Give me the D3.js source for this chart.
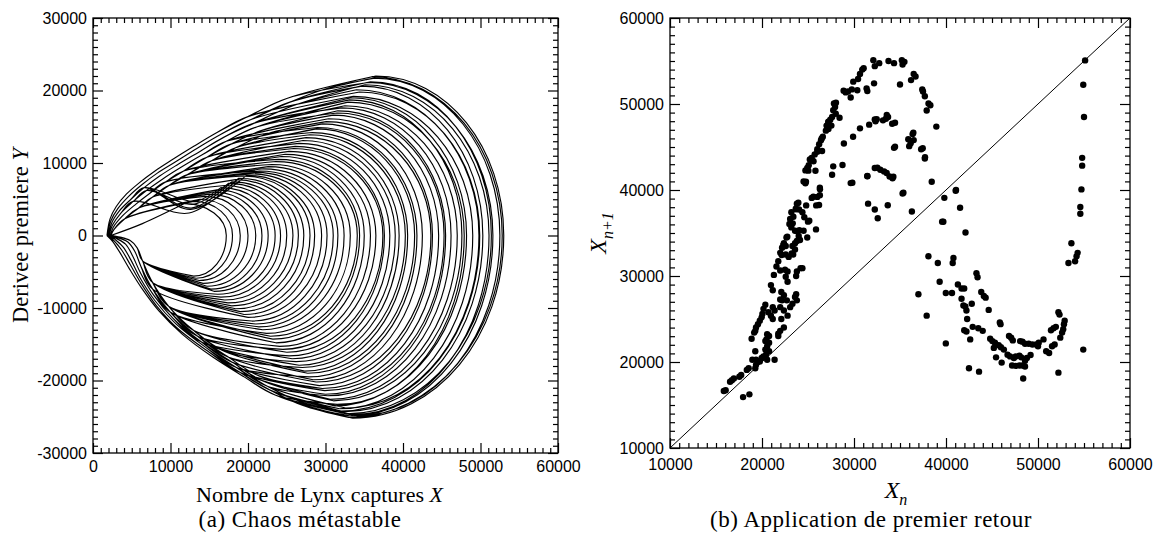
<!DOCTYPE html>
<html>
<head>
<meta charset="utf-8">
<script src="https://cdn.jsdelivr.net/npm/d3@7"></script>
<style>
  body { margin: 0; background: #fff; }
  svg { display: block; font-family: "Liberation Serif", "Times New Roman", serif; }
</style>
</head>
<body>
<svg id="chart" width="1160" height="535"></svg>
<script>
// ---------------- panel (a): phase portrait, one entry per loop ----------------
// right extent (at Y=0), top of the loop and its X, bottom of the loop and its X
const loopRight   = [53000,52800,52500,51600,51400,51100,50300,49900,49800,49000,48200,47900,47600,47000,46200,45500,45300,44600,
                     43800,43600,42500,41800,41500,40600,40300,39500,39000,38300,37600,37400,36500,35800,35000,34400,34100,33200,
                     32400,31600,31000,30200,29500,28600,28000,27200,26500,25800,25000,24200,23500,22600,21800,21000,20000,19000,18000,17200];
const loopTop     = [22000,21900,21700,21100,21200,20800,20600,19800,20100,19200,19000,18400,18700,17900,17600,17200,16900,16600,
                     16100,15700,15400,14900,14700,14200,13900,13500,13100,12700,12300,12000,11600,11200,10900,10500,10200,9800,
                     9500,9200,8900,8700,8500,8300,8200,7900,7700,7400,7200,6900,6600,6300,6000,5700,5400,5000,4700,4400];
const loopTopX    = [36500,36000,36300,35500,35800,35100,34700,34400,34000,33600,33300,32900,33100,32500,32100,31600,31500,31000,
                     30400,30100,29600,29000,28800,28300,28000,27500,27100,26600,26100,25900,25300,24800,24300,23900,23600,23100,
                     22600,22000,21500,21000,20400,19800,19400,18800,18400,17900,17500,17000,16500,16000,15500,15000,14400,13800,13000,11800];
const loopBottom  = [-25200,-25100,-24900,-24900,-24600,-24700,-24300,-24200,-23800,-23900,-23300,-23500,-22800,-22600,-22100,-21900,-21400,-21100,
                     -20700,-20200,-19900,-19500,-19000,-18700,-18200,-17900,-17400,-17000,-16600,-16100,-15700,-15300,-14800,-14300,-13900,-13500,
                     -13000,-12600,-12200,-11800,-11300,-10900,-10500,-10100,-9700,-9300,-8900,-8500,-8100,-7700,-7400,-7000,-6600,-6200,-5900,-5600];
const loopBottomX = [33500,33000,34000,33200,32800,33500,32500,32000,32600,31800,31500,31200,31000,30600,30300,30000,29900,29600,
                     29200,28800,28400,27900,27700,27300,27000,26600,26200,25700,25300,25000,24500,24100,23600,23200,22900,22400,
                     21900,21400,21000,20500,20000,19500,19000,18400,17900,17400,17000,16500,16100,15600,15200,14700,14200,13700,13300,13000];
// which strand of the upper-left / lower-left bundles the loop rides on (0 = outer)
const loopUpper   = [0,0,1,0,1,2,1,0,2,1,2,3,2,3,2,4,3,4,3,5,4,3,5,4,5,4,5,4,5,5,4,5,5,4,5,5,5,5,4,5,5,2,5,3,5,2,3,5,2,5,5,5,5,5,5,5];
const loopLower   = [0,1,0,1,0,2,0,1,2,1,0,2,3,1,2,3,1,4,2,3,4,2,5,3,4,3,5,4,3,5,4,5,4,5,5,4,5,5,5,5,4,5,5,5,5,5,5,5,5,5,5,5,5,5,5,5];
// loops that sag before reaching their top (the ribbon near X = 12500); 0 = none
const loopDipX    = [0,0,0,0,0,0,0,0,0,0,0,0,0,0,0,0,0,0,0,0,0,0,0,0,0,0,0,0,0,0,0,0,0,0,0,0,0,0,0,0,0,
                     12600,0,12400,0,12700,12900,0,13100,0,0,0,0,0,0,6300];
const loopDipY    = [0,0,0,0,0,0,0,0,0,0,0,0,0,0,0,0,0,0,0,0,0,0,0,0,0,0,0,0,0,0,0,0,0,0,0,0,0,0,0,0,0,
                     3600,0,3100,0,3800,4300,0,4700,0,0,0,0,0,0,1600];
// left nose of the attractor, one per upper strand
const tipPoints = [[1800,0],[1900,150],[2000,-100],[2100,50],[2200,-150],[2300,0]];
// strands of the bundle rising from the left nose
const upperStrands = [
  [[2200,2300],[3000,4000],[4300,5700],[6000,7300],[8000,8900],[10000,10300],[13000,12300],[16000,14200],[20000,16400],[25000,18900],[30000,20800],[33500,21800]],
  [[2300,2000],[3200,3700],[4600,5400],[6300,7000],[8300,8600],[10400,10000],[13400,12000],[16400,13900],[20400,16000],[25400,18400],[30000,20200],[33500,21200]],
  [[2400,1700],[3400,3400],[4900,5000],[6600,6600],[8600,8200],[10800,9700],[13800,11600],[16800,13500],[20800,15500],[25800,17900],[30300,19700],[34000,20700]],
  [[2500,1400],[3600,3100],[5200,4700],[6900,6200],[9000,7800],[11200,9300],[14200,11200],[17200,13000],[21200,15000],[26200,17400],[30700,19200],[34300,20200]],
  [[2600,1100],[3800,2700],[5500,4300],[7300,5800],[9400,7400],[11700,8900],[14700,10800],[17800,12600],[21800,14500],[26800,16900],[31200,18700],[34700,19700]],
  [[2700,800],[4100,2300],[5900,3800],[7700,5300],[9800,6900],[12200,8400],[15300,10300],[18400,12100],[22400,14000],[27400,16400],[31700,18200],[35000,19200]]
];
// strands of the bundle returning to the left nose (ordered right to left)
const lowerStrands = [
  [[31500,-25100],[27500,-24000],[23500,-22000],[19500,-19500],[15500,-16800],[11500,-13600],[8500,-10400],[6300,-7300],[4700,-4600],[3500,-2400],[2600,-900]],
  [[31000,-24600],[27000,-23400],[23000,-21400],[19000,-18900],[15000,-16100],[11000,-12900],[8200,-9700],[6200,-6600],[4800,-4000],[3700,-2000],[2700,-700]],
  [[30500,-24100],[26500,-22800],[22500,-20800],[18500,-18200],[14500,-15400],[10700,-12200],[8000,-9000],[6100,-5900],[4900,-3400],[3900,-1600],[2800,-500]],
  [[30000,-23500],[26000,-22200],[22000,-20100],[18000,-17500],[14000,-14700],[10300,-11400],[7800,-8200],[6100,-5100],[5100,-2800],[4200,-1200],[2900,-350]],
  [[29500,-22900],[25500,-21500],[21500,-19400],[17500,-16800],[13500,-13900],[10000,-10600],[7700,-7400],[6200,-4300],[5400,-2200],[4500,-900],[3000,-250]],
  [[29000,-22200],[25000,-20800],[21000,-18700],[17000,-16000],[13000,-13100],[9800,-9800],[7700,-6500],[6400,-3500],[5700,-1700],[4800,-700],[3100,-150]]
];

// ---------------- panel (b): first return map (X_n, X_n+1) ----------------
const returnMap = [
  [32100,55100],[32260,54400],[32740,54750],[33750,55000],[34350,54750],[35200,55100],[35280,54600],[35480,54900],[35000,52270],
  [30900,54000],[31050,54150],[30650,53500],[30440,52900],[29920,52600],[29760,51700],[29350,51450],[29100,51350],[28870,51550],
  [29640,50750],[30360,51600],[31450,51500],[31370,51800],[32180,52400],
  [36490,53500],[36690,53200],[36200,52780],[37420,51700],[37500,51450],[37700,50900],[38100,50050],[38300,49860],[37900,49250],
  [38950,47370],[37300,44730],[37700,43660],[36490,45800],[35900,45900],[36000,45100],[36370,46500],
  [30650,47170],[29900,46200],[31650,47600],[32260,48200],[32340,48000],[33150,48100],[33700,48500],[34150,47700],[33470,48280],
  [34350,44900],[28900,45400],[28750,42900],[29640,40800],[31450,41600],[32260,42550],[32860,42360],[33270,42160],[33550,41970],
  [33870,41570],[34190,41370],[31530,38410],[32260,37740],[32580,36720],[33670,38220],[35280,39600],[36290,37500],
  [32470,48220],[33560,48720],[34460,47820],[36450,46660],[36160,45430],[37470,44850],[37720,43800],[34460,45030],[32540,42590],
  [34280,41540],[31450,41620],[29820,40850],[35370,39690],[38450,40960],
  [27820,50050],[27940,49660],[27740,49270],[28020,48870],[28430,48400],[27620,48480],[27420,48160],[27220,47880],[27020,47490],
  [27540,47490],[27220,47100],[26940,46900],[26610,46190],[26410,45790],[26210,45320],[26530,44530],[26010,44730],[25730,44140],
  [25400,43740],[25200,43540],[25600,43350],[25080,42870],[24720,42280],[24920,42560],[24520,40980],[24720,40780],[25810,42240],
  [27620,41770],[27740,42750],[26290,40270],[26290,39400],[25890,38210],[26010,39200],[25400,39080],[24800,38210],[23790,38410],
  [23670,37820],[24030,37740],[24390,37420],[24600,36830],[23190,37420],[23060,36620],[22980,36040],[23190,35650],[23590,35260],
  [23790,35220],[23990,34660],[24920,34470],[24520,35260],[25000,36320],[23790,34070],[22660,34470],[22380,33800],[22180,33280],
  [21980,32690],[22580,33480],[23310,33480],[23590,33090],[23390,32500],[22900,32220],[22580,32500],[21770,31710],[21570,31110],
  [21980,30640],[22500,30720],[22780,30520],[22580,29920],[22780,29330],[23710,30000],[23790,30520],[24190,30910],[24390,30910],
  [21290,30130],[20970,28940],[21170,28350],[22100,28150],[22380,27760],[21980,27260],[22180,27170],[22700,27170],[23590,27560],
  [23710,27880],[23790,27170],[21170,26380],[21370,25990],[21980,26380],[22380,25990],[22100,25000],[22780,25390],[23310,26780],
  [23060,26380],[20360,26650],[20160,26180],[20040,25590],[19960,25190],[19760,24800],[19560,24400],[19350,24010],[19270,23620],
  [19150,23420],[22380,24010],[21980,23620],[21770,23300],[21770,23020],[20690,25790],[20970,25390],[21170,25000],[20560,23220],
  [20770,23020],[20480,22630],[20360,22430],[20770,22230],[20560,21840],[20360,21440],[20770,21250],[20440,20850],[20160,20650],
  [19960,20460],[20560,20260],[19760,20060],[19350,20260],[18950,20260],[19350,19670],[19270,19270],[18870,22710],[19270,21250],
  [21370,20260],[18550,19270],[18350,19080],[17740,18490],[17540,18290],[16730,17890],[16530,17700],[16050,16710],[15850,16630],
  [16940,18090],[17940,15920],[18630,16240],
  [28040,50150],[27210,47940],[26490,46000],[26010,44450],[25400,43490],[25040,42250],[24780,40970],[26300,40080],[25580,39220],
  [26200,38250],[23950,38520],[23700,37750],[23410,36890],[23340,36120],[24060,35340],[25140,36430],[25870,35420],[22750,34570],
  [22320,33600],[22140,32440],[23590,33800],[24130,34180],[23230,32630],
  [41050,39910],[39820,39090],[41530,37940],[39580,36320],[38090,32300],[39110,31510],[39310,29340],[39980,28030],[40650,28030],
  [40730,31510],[40810,32100],[37000,27880],[37900,25390],[39980,22160],[42120,35060],[41290,29020],[41690,28550],[41980,28550],
  [41690,27360],[41890,26580],[42100,26460],[42220,25990],[42300,25000],[41980,23700],[42220,23540],[42630,22630],[42800,26780],
  [43310,30320],[43430,29850],[42900,24090],[43510,23930],[43990,23620],[43830,28150],[44110,27680],[44310,27480],[44640,26060],
  [44800,22710],[45040,22430],[45200,21640],[45320,22230],[45730,21960],[45970,21720],[46290,21440],[45440,20540],[45850,24600],
  [45930,24400],[46050,19930],[46850,23020],[47080,22820],[47260,22510],[46690,20850],[46970,20650],[47380,20460],[47580,20650],
  [47980,20730],[48180,20540],[47180,19590],[47580,19550],[47980,19590],[48310,19590],[48590,19470],[48060,22430],[48310,22350],
  [48590,22120],[48990,22120],[49390,22040],[49800,22040],[50080,22230],[50000,21840],[49190,20810],[48790,20460],[48590,20140],
  [48390,18090],[50600,22630],[50890,21250],[51210,21050],[51530,21840],[51810,22040],[51410,23700],[51690,23930],[51940,24090],
  [52220,25790],[52340,25510],[52420,22830],[52620,23420],[52740,23810],[52820,24400],[52900,24800],[52220,18760],[54920,21440],
  [42500,19270],[43590,18880],[39710,36310],[41090,40000],
  [53310,31510],[53630,33800],[54030,31710],[54190,32300],[54310,32690],[54600,37230],[54600,38020],[54720,40070],[54800,42830],
  [54800,43740],[55000,48480],[54920,52230],[55120,55070]
];

// axis ticks
const ticksA_X = [0,10000,20000,30000,40000,50000,60000];
const ticksA_Y = [-30000,-20000,-10000,0,10000,20000,30000];
const ticksB   = [10000,20000,30000,40000,50000,60000];

const svg = d3.select("#chart");

function drawFrame(g, x, y, xMajor, yMajor, w, h, xPad) {
  const xMinor = d3.range(x.domain()[0], x.domain()[1] + 1, 1000).filter(v => !xMajor.includes(v));
  const yMinor = d3.range(y.domain()[0], y.domain()[1] + 1, 1000).filter(v => !yMajor.includes(v));
  const fmt = d => String(d);
  const add = (axis, tr) => g.append("g").attr("transform", tr).call(axis)
      .call(s => s.select(".domain").remove())
      .call(s => s.selectAll("line").attr("stroke-width", 1.2))
      .call(s => s.selectAll("text").attr("font-size", 16).attr("fill", "#000"));
  add(d3.axisBottom(x).tickValues(xMajor).tickSize(-10).tickPadding(xPad).tickFormat(fmt), `translate(0,${h})`);
  add(d3.axisBottom(x).tickValues(xMinor).tickSize(-5).tickFormat(""), `translate(0,${h})`);
  add(d3.axisTop(x).tickValues(xMajor).tickSize(-10).tickFormat(""), "translate(0,0)");
  add(d3.axisTop(x).tickValues(xMinor).tickSize(-5).tickFormat(""), "translate(0,0)");
  add(d3.axisLeft(y).tickValues(yMajor).tickSize(-10).tickPadding(6).tickFormat(fmt), "translate(0,0)");
  add(d3.axisLeft(y).tickValues(yMinor).tickSize(-5).tickFormat(""), "translate(0,0)");
  add(d3.axisRight(y).tickValues(yMajor).tickSize(-10).tickFormat(""), `translate(${w},0)`);
  add(d3.axisRight(y).tickValues(yMinor).tickSize(-5).tickFormat(""), `translate(${w},0)`);
  g.append("rect").attr("width", w).attr("height", h)
    .attr("fill", "none").attr("stroke", "#000").attr("stroke-width", 1.3);
}

// ---------- panel (a) ----------
{
  const L = 93, T = 18, W = 465, H = 435;
  const g = svg.append("g").attr("transform", `translate(${L},${T})`);
  const x = d3.scaleLinear().domain([0, 60000]).range([0, W]);
  const y = d3.scaleLinear().domain([-30000, 30000]).range([H, 0]);

  const path = d3.path();
  const piece = d3.line().x(d => x(d[0])).y(d => y(d[1])).curve(d3.curveCatmullRom.alpha(0.5)).context(path);
  const k = 0.5523; // quarter-ellipse handle length
  const n = loopRight.length;
  loopRight.forEach((R, i) => {
    const top = loopTop[i], xt = loopTopX[i], bot = loopBottom[i], xb = loopBottomX[i];
    const tip = tipPoints[loopUpper[i]];
    const nextTip = tipPoints[loopUpper[(i + 1) % n]];
    const dip = loopDipX[i] ? [loopDipX[i], loopDipY[i]] : null;
    const up = upperStrands[loopUpper[i]].filter(p => dip ? p[0] < dip[0] - 5500
                                                       : (p[1] < top - 1200 && p[0] < xt - 3500));
    piece([tip, ...up, ...(dip ? [dip] : []), [xt, top]]);
    // right half of the loop, through its right extent
    path.bezierCurveTo(x(xt + k * (R - xt)), y(top), x(R), y(k * top), x(R), y(0));
    path.bezierCurveTo(x(R), y(k * bot), x(xb + k * (R - xb)), y(bot), x(xb), y(bot));
    const low = lowerStrands[loopLower[i]].filter(p => p[1] > bot + 1200 && p[0] < xb - 3500);
    piece([[xb, bot], ...low, nextTip]);
  });
  g.append("path").attr("d", path.toString())
    .attr("fill", "none").attr("stroke", "#000").attr("stroke-width", 1.15);

  drawFrame(g, x, y, ticksA_X, ticksA_Y, W, H, 8);

  g.append("text").attr("x", W / 2 - 6).attr("y", H + 49).attr("text-anchor", "middle")
    .attr("font-size", 22)
    .html('Nombre de Lynx captures <tspan font-style="italic">X</tspan>');
  g.append("text").attr("transform", `translate(${20 - L},${H / 2}) rotate(-90)`)
    .attr("text-anchor", "middle").attr("dy", "0.35em").attr("font-size", 22.5)
    .html('Derivee premiere <tspan font-style="italic">Y</tspan>');
}

// ---------- panel (b) ----------
{
  const L = 670, T = 18, W = 460, H = 430;
  const g = svg.append("g").attr("transform", `translate(${L},${T})`);
  const x = d3.scaleLinear().domain([10000, 60000]).range([0, W]);
  const y = d3.scaleLinear().domain([10000, 60000]).range([H, 0]);

  g.append("line")
    .attr("x1", x(10000)).attr("y1", y(10000)).attr("x2", x(60000)).attr("y2", y(60000))
    .attr("stroke", "#000").attr("stroke-width", 1);

  g.append("g").selectAll("circle").data(returnMap).join("circle")
    .attr("cx", d => x(d[0])).attr("cy", d => y(d[1])).attr("r", 3.2).attr("fill", "#000");

  drawFrame(g, x, y, ticksB, ticksB, W, H, 11);

  g.append("text").attr("x", W / 2 - 4).attr("y", H + 50).attr("text-anchor", "middle")
    .attr("font-size", 24)
    .html('<tspan font-style="italic">X</tspan><tspan font-style="italic" font-size="16" dy="7">n</tspan>');
  g.append("text").attr("transform", `translate(${598 - L},${H / 2}) rotate(-90)`)
    .attr("text-anchor", "middle").attr("dy", "0.35em").attr("font-size", 24)
    .html('<tspan font-style="italic">X</tspan><tspan font-style="italic" font-size="16" dy="7">n+1</tspan>');
}

// captions
svg.append("text").attr("x", 300).attr("y", 527).attr("text-anchor", "middle")
  .attr("font-size", 23).attr("letter-spacing", 0.5)
  .text("(a) Chaos métastable");
svg.append("text").attr("x", 871).attr("y", 527).attr("text-anchor", "middle")
  .attr("font-size", 23).attr("letter-spacing", 0.5)
  .text("(b) Application de premier retour");
</script>
</body>
</html>
